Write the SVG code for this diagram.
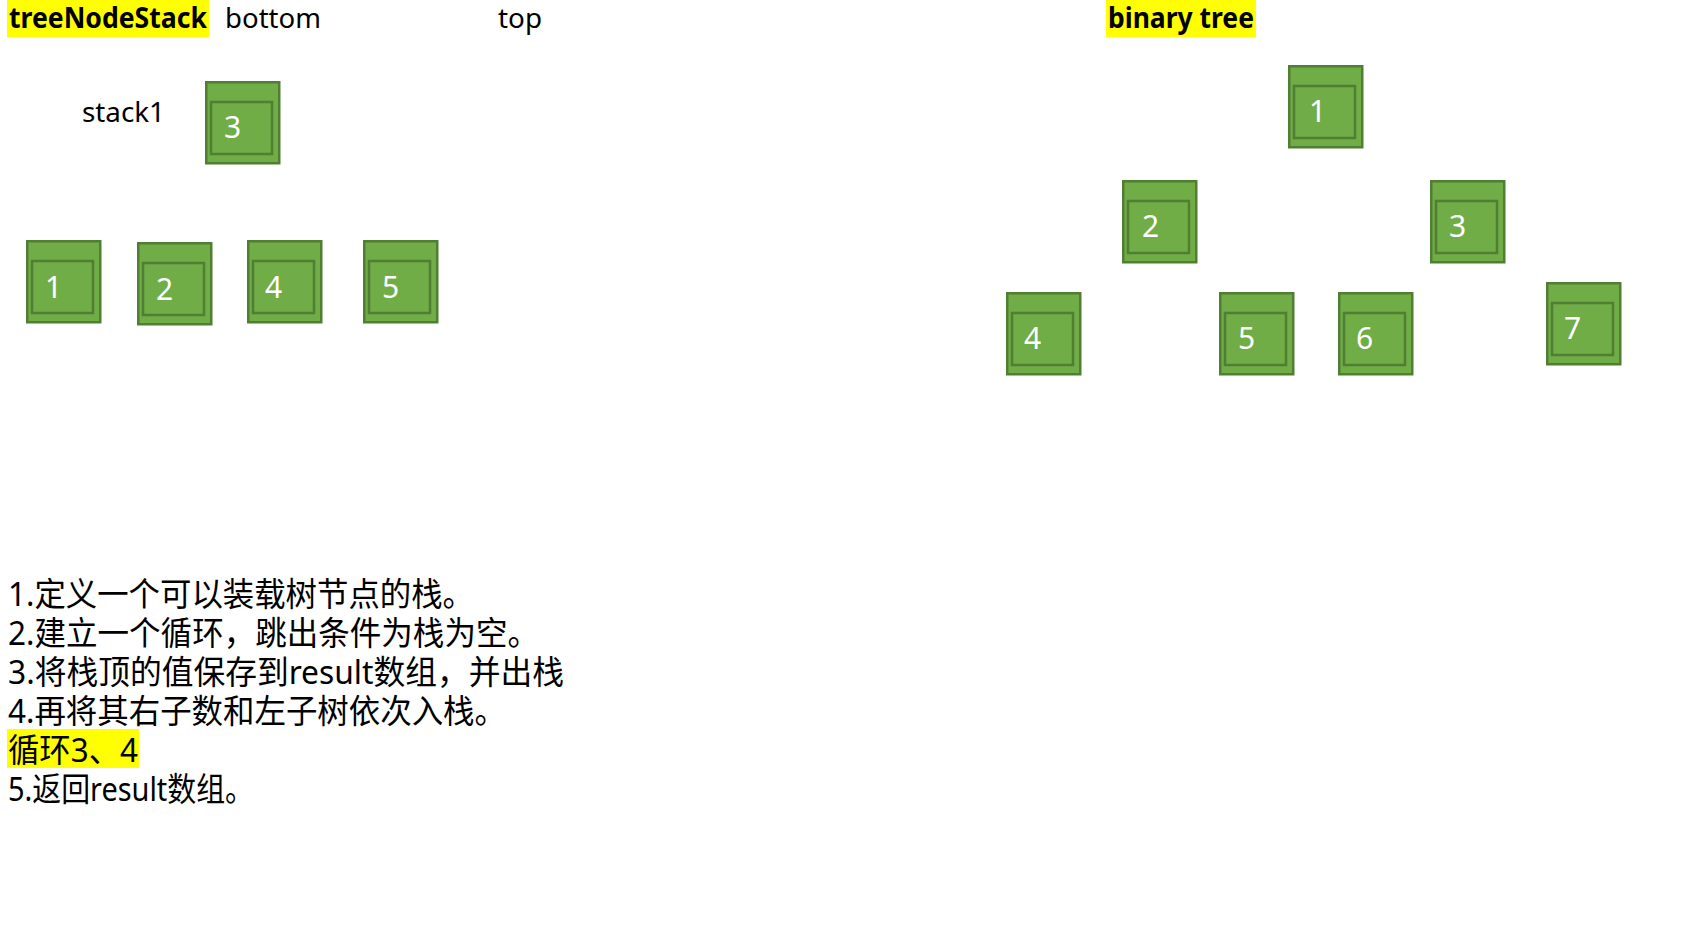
<svg xmlns="http://www.w3.org/2000/svg" width="1708" height="943" viewBox="0 0 1708 943">
<style>
.o{fill:#70AD47;stroke:#507E32;stroke-width:2.5}
.i{fill:#70AD47;stroke:#507E32;stroke-width:2.5}
.d{font-family:"Noto Sans","Liberation Sans",sans-serif;font-size:30px;fill:#ffffff}
.t{font-family:"Noto Sans","Liberation Sans",sans-serif;font-size:28px;fill:#000000}
.b{font-weight:bold}
.hl{fill:#FFFF00}
.cn{font-family:"Noto Sans","Noto Sans CJK SC",sans-serif;font-size:33px;fill:#000000}
</style>
<defs>
<g id="box">
<rect class="o" x="1.25" y="1.25" width="73" height="81"/>
<rect class="i" x="6" y="21" width="61" height="52"/>
</g>
</defs>
<rect width="1708" height="943" fill="#ffffff"/>
<g id="labels">
<rect class="hl" x="7" y="0" width="202" height="37"/>
<text class="t b" x="9" y="28" textLength="198" lengthAdjust="spacingAndGlyphs">treeNodeStack</text>
<text class="t" x="225" y="28" textLength="96" lengthAdjust="spacingAndGlyphs">bottom</text>
<text class="t" x="498" y="28" textLength="44" lengthAdjust="spacingAndGlyphs">top</text>
<text class="t" x="82" y="122" textLength="83" lengthAdjust="spacingAndGlyphs">stack1</text>
<rect class="hl" x="1106" y="0" width="150" height="37"/>
<text class="t b" x="1108" y="28" textLength="146" lengthAdjust="spacingAndGlyphs">binary tree</text>
</g>
<g id="stack-3" transform="translate(205,81)"><use href="#box"/><text class="d" x="19" y="57">3</text></g>
<g id="list-1" transform="translate(26,240)"><use href="#box"/><text class="d" x="19" y="58">1</text></g>
<g id="list-2" transform="translate(137,242)"><use href="#box"/><text class="d" x="19" y="58">2</text></g>
<g id="list-4" transform="translate(247,240)"><use href="#box"/><text class="d" x="18" y="58">4</text></g>
<g id="list-5" transform="translate(363,240)"><use href="#box"/><text class="d" x="19" y="58">5</text></g>
<g id="tree-1" transform="translate(1288,65)"><use href="#box"/><text class="d" x="21" y="57">1</text></g>
<g id="tree-2" transform="translate(1122,180)"><use href="#box"/><text class="d" x="20" y="57">2</text></g>
<g id="tree-3" transform="translate(1430,180)"><use href="#box"/><text class="d" x="19" y="57">3</text></g>
<g id="tree-4" transform="translate(1006,292)"><use href="#box"/><text class="d" x="18" y="57">4</text></g>
<g id="tree-5" transform="translate(1219,292)"><use href="#box"/><text class="d" x="19" y="57">5</text></g>
<g id="tree-6" transform="translate(1338,292)"><use href="#box"/><text class="d" x="18" y="57">6</text></g>
<g id="tree-7" transform="translate(1546,282)"><use href="#box"/><text class="d" x="18" y="57">7</text></g>
<g id="connectors"></g>
<g id="steps">
<rect class="hl" x="7" y="729" width="132" height="39"/>
<text class="cn" x="8" y="606" textLength="466" lengthAdjust="spacingAndGlyphs">1.定义一个可以装载树节点的栈。</text>
<text class="cn" x="8" y="645" textLength="531" lengthAdjust="spacingAndGlyphs">2.建立一个循环，跳出条件为栈为空。</text>
<text class="cn" x="8" y="684" textLength="556" lengthAdjust="spacingAndGlyphs">3.将栈顶的值保存到result数组，并出栈</text>
<text class="cn" x="8" y="723" textLength="498" lengthAdjust="spacingAndGlyphs">4.再将其右子数和左子树依次入栈。</text>
<text class="cn" x="8" y="762" textLength="130" lengthAdjust="spacingAndGlyphs">循环3、4</text>
<text class="cn" x="8" y="801" textLength="246" lengthAdjust="spacingAndGlyphs">5.返回result数组。</text>
</g>
</svg>
